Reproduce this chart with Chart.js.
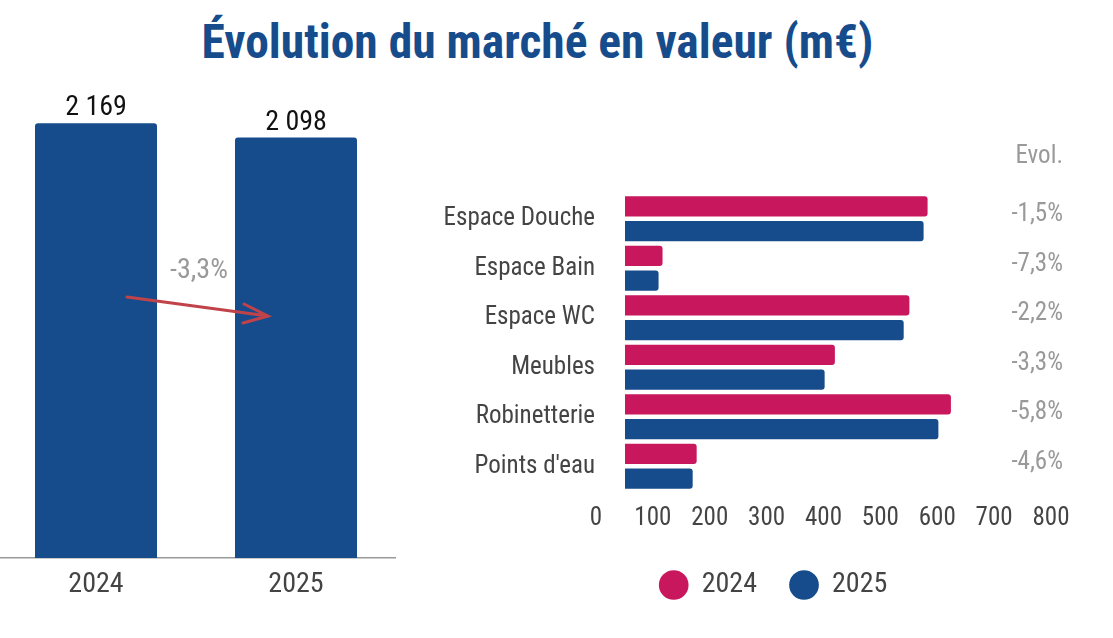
<!DOCTYPE html>
<html lang="fr">
<head>
<meta charset="utf-8">
<script src="https://cdn.jsdelivr.net/npm/chart.js@4.4.1/dist/chart.umd.min.js"></script>
<style>
body{margin:0;width:1113px;height:638px;background:#fff;overflow:hidden;position:relative;}
h1{position:absolute;top:0;left:0;width:1075px;margin:0;text-align:center;font-family:"Roboto Condensed",Roboto,sans-serif;font-size:47.5px;font-weight:700;color:#174C8C;line-height:85px;}
#marketChart{position:absolute;left:-4px;top:0;}
#segmentChart{position:absolute;left:420px;top:0;}
</style>
</head>
<body>
<h1>Évolution du marché en valeur (m€)</h1>
<canvas id="marketChart" width="400" height="638"></canvas>
<canvas id="segmentChart" width="693" height="638"></canvas>
<script>
// data
const years = ['2024', '2025'];
const marketTotals = [2169, 2098];
const segments = ['Espace Douche', 'Espace Bain', 'Espace WC', 'Meubles', 'Robinetterie', "Points d'eau"];
const values2024 = [583, 117, 551, 420, 624, 177];
const values2025 = [576, 110, 541, 402, 602, 170];
const evolLabels = ['-1,5%', '-7,3%', '-2,2%', '-3,3%', '-5,8%', '-4,6%'];
const xTickValues = [0, 100, 200, 300, 400, 500, 600, 700, 800];

const FONT = '"Roboto Condensed", Roboto, sans-serif';
const BLUE = '#174C8C';
const PINK = '#C8175D';
const GREY = '#999999';
const TEXT = '#444444';

function fmt(n){ return String(n).replace(/\B(?=(\d{3})+(?!\d))/g, ' '); }

// value labels above the big bars + evolution arrow
const marketLabels = {
  id: 'marketLabels',
  afterDatasetsDraw(chart){
    const {ctx} = chart;
    const meta = chart.getDatasetMeta(0);
    ctx.save();
    ctx.font = '28px ' + FONT;
    ctx.fillStyle = '#111';
    ctx.textAlign = 'center';
    ctx.textBaseline = 'bottom';
    meta.data.forEach((bar, i) => ctx.fillText(fmt(marketTotals[i]), bar.x, bar.y - 1));

    const x0 = meta.data[0].x, x1 = meta.data[1].x;
    const evol = (marketTotals[1] - marketTotals[0]) / marketTotals[0] * 100;
    ctx.fillStyle = GREY;
    ctx.textBaseline = 'middle';
    ctx.fillText(evol.toFixed(1).replace('.', ',') + '%', (x0 + x1) / 2 + 3, 271);

    const sx = x0 + 31, sy = 297, ex = x1 - 28, ey = 316;
    ctx.strokeStyle = '#C0434A';
    ctx.lineWidth = 3;
    ctx.lineCap = 'round';
    ctx.beginPath();
    ctx.moveTo(sx, sy); ctx.lineTo(ex, ey);
    ctx.moveTo(ex - 24, ey - 12); ctx.lineTo(ex, ey); ctx.lineTo(ex - 25, ey + 7);
    ctx.stroke();
    ctx.restore();
  }
};

// evolution column on the right
const evolColumn = {
  id: 'evolColumn',
  afterDraw(chart){
    const {ctx} = chart;
    const y = chart.scales.y;
    const right = chart.width - 50;
    ctx.save();
    ctx.font = '25px ' + FONT;
    ctx.fillStyle = GREY;
    ctx.textAlign = 'right';
    ctx.textBaseline = 'middle';
    ctx.fillText('Evol.', right, 157);
    evolLabels.forEach((t, i) => ctx.fillText(t, right, y.getPixelForValue(i) - 4));
    ctx.restore();
  }
};

// nudge the legend under the bars
const legendShift = {
  id: 'legendShift',
  afterLayout(chart){
    const l = chart.legend;
    l.left += 38; l.right += 38;
    l.top += 7; l.bottom += 7;
  }
};

new Chart(document.getElementById('marketChart'), {
  type: 'bar',
  data: {
    labels: years,
    datasets: [{
      data: marketTotals,
      backgroundColor: BLUE,
      borderRadius: 3,
      barPercentage: 0.61,
      categoryPercentage: 1
    }]
  },
  options: {
    responsive: false,
    animation: false,
    layout: {padding: {top: 77}},
    plugins: {legend: {display: false}, tooltip: {enabled: false}},
    scales: {
      x: {
        grid: {display: false, drawTicks: false},
        border: {color: '#9a9a9a', width: 1.5},
        ticks: {color: TEXT, font: {family: FONT, size: 28}, padding: 10},
        afterFit(s){ s.height = 80; }
      },
      y: {display: false, min: 0, max: 2400}
    }
  },
  plugins: [marketLabels]
});

new Chart(document.getElementById('segmentChart'), {
  type: 'bar',
  data: {
    labels: segments,
    datasets: [
      {label: '2024', data: values2024, backgroundColor: PINK, base: 51, borderRadius: 3, barPercentage: 0.82, categoryPercentage: 1},
      {label: '2025', data: values2025, backgroundColor: BLUE, base: 51, borderRadius: 3, barPercentage: 0.82, categoryPercentage: 1}
    ]
  },
  options: {
    indexAxis: 'y',
    responsive: false,
    animation: false,
    layout: {padding: {top: 194, right: 62, left: 0, bottom: 36}},
    plugins: {
      tooltip: {enabled: false},
      legend: {
        position: 'bottom',
        labels: {
          usePointStyle: true, pointStyle: 'circle',
          boxWidth: 28, boxHeight: 21,
          padding: 33,
          color: TEXT,
          font: {family: FONT, size: 28}
        }
      }
    },
    scales: {
      x: {
        min: 0, max: 800,
        afterBuildTicks(s){ s.ticks = xTickValues.map(v => ({value: v})); },
        grid: {display: false, drawTicks: false},
        border: {display: false},
        ticks: {color: TEXT, font: {family: FONT, size: 25}, padding: 13},
        afterFit(s){ s.height = 40; }
      },
      y: {
        grid: {display: false, drawTicks: false},
        border: {display: false},
        ticks: {color: TEXT, font: {family: FONT, size: 25}, padding: 1},
        afterFit(s){ s.width = 176; }
      }
    }
  },
  plugins: [evolColumn, legendShift]
});
</script>
</body>
</html>
